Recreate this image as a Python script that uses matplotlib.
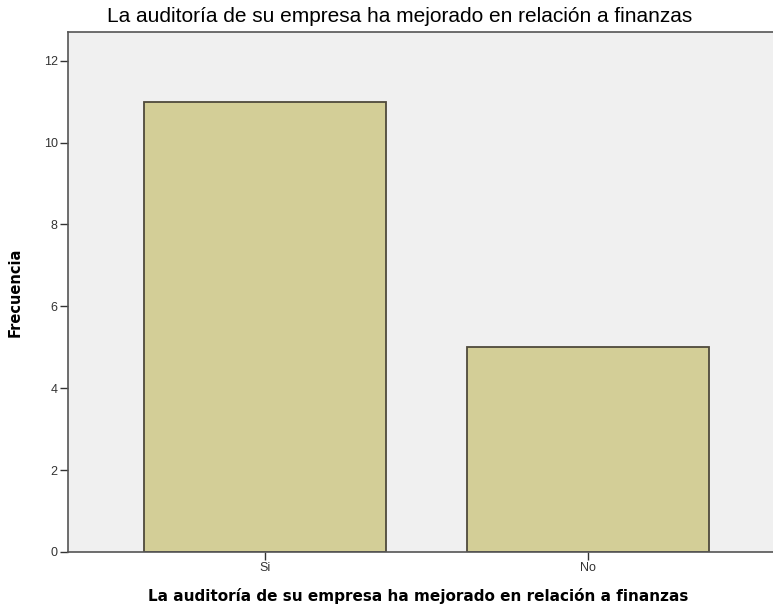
import matplotlib
matplotlib.use("Agg")
import matplotlib.pyplot as plt

categories = ["Si", "No"]
values = [11, 5]
yticks = [0, 2, 4, 6, 8, 10, 12]
title = "La auditoría de su empresa ha mejorado en relación a finanzas"

plt.rcParams['font.family'] = ['Liberation Sans', 'DejaVu Sans']

W, H = 773, 612
fig = plt.figure(figsize=(W / 100, H / 100), dpi=100)
fig.patch.set_facecolor('white')
left, right, bottom, top = 68, 773, 552, 32
ax = fig.add_axes([left / W, (H - bottom) / H, (right - left) / W, (bottom - top) / H])
ax.set_facecolor('#F0F0F0')

x = list(range(len(categories)))
ax.bar(x, values, width=0.752, color='#D3CE97', edgecolor='#4F4A3C', linewidth=1.3, zorder=2)

ax.set_xlim(-0.610, 1.573)
ax.set_ylim(0, 12.7)
ax.set_yticks(yticks)
ax.set_yticklabels([str(t) for t in yticks], fontsize=9, color='#333333')
ax.set_xticks(x)
ax.set_xticklabels(categories, fontsize=9, color='#333333')
ax.tick_params(axis='both', length=6, width=1, color='#333333', pad=1.5)

for s in ['left', 'bottom', 'top']:
    ax.spines[s].set_color('#555555')
    ax.spines[s].set_linewidth(1.2)
ax.spines['right'].set_visible(False)

ax.set_ylabel("Frecuencia", fontsize=10.5, fontweight='bold', family=['DejaVu Sans'])
ax.yaxis.set_label_coords((23 - left) / (right - left), 0.5)
ax.set_xlabel(title, fontsize=11, fontweight='bold', family=['DejaVu Sans'])
ax.xaxis.set_label_coords((418 - left) / (right - left), -(596 - bottom) / (bottom - top))
ax.xaxis.label.set_va('center')
fig.text(400 / W, 1 - 16 / H, title, ha='center', va='center', fontsize=15)

fig.savefig("out.png", dpi=100)
